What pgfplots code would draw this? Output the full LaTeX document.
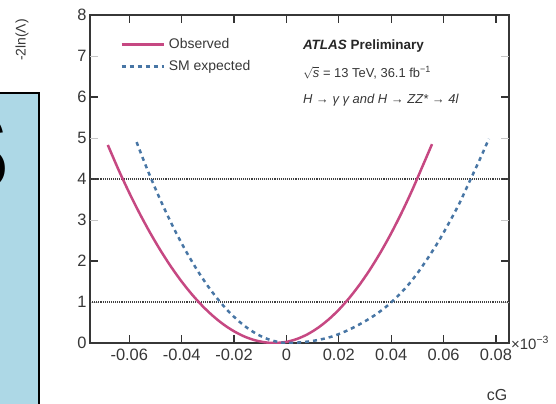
\documentclass[border=0pt]{standalone}
\usepackage{pgfplots}
\pgfplotsset{compat=1.18}
\usepackage{fontspec}
\setmainfont{Liberation Sans}
\definecolor{obs}{RGB}{198,72,130}
\definecolor{smexp}{RGB}{72,118,165}
\definecolor{boxblue}{RGB}{173,216,230}
\definecolor{txt}{RGB}{55,55,55}
\begin{document}
\begin{tikzpicture}[x=1bp,y=1bp]
\path[use as bounding box] (0,0) rectangle (556,403);
\begin{scope}
\clip (0,0) rectangle (556,403);
\fill[boxblue] (-5,-5) rectangle (39,310);
\draw[line width=2bp] (-5,-5) rectangle (39,310);
\node[anchor=east, font=\fontsize{110}{110}\selectfont\bfseries, inner sep=0pt] at (10,250) {S};
\node[rotate=90, font=\fontsize{14}{14}\selectfont, text=txt] at (22,363) {-2ln(Λ)};
\end{scope}
\begin{axis}[
  at={(90bp,60bp)}, anchor=south west, scale only axis,
  width=419bp, height=328bp,
  xmin=-0.075, xmax=0.085, ymin=0, ymax=8,
  scaled x ticks=false,
  xtick={-0.06,-0.04,-0.02,0,0.02,0.04,0.06,0.08},
  xticklabels={-0.06,-0.04,-0.02,0,0.02,0.04,0.06,0.08},
  ytick={0,2,4,6,8},
  extra y ticks={1,3,5,7},
  extra y tick style={tick style={gray!45, line width=1bp}},
  tick align=inside, major tick length=8bp,
  axis line style={line width=1.5bp, txt},
  every tick/.style={line width=1.2bp, black!80},
  ticklabel style={font=\fontsize{16.5}{16.5}\selectfont, text=txt},
  xticklabel style={yshift=-2bp},
  /pgf/number format/assume math mode=true,
  legend style={at={(0.065,0.94)}, anchor=north west, draw=none, fill=none,
    font=\fontsize{14}{15}\selectfont, text=txt, row sep=6bp, nodes={inner xsep=4bp}},
  legend cell align=left,
  legend image code/.code={\draw[#1] (0bp,0bp) -- (42bp,0bp);},
]
\addplot[forget plot, densely dotted, black!75, line width=1.1bp] coordinates {(-0.075,1) (0.085,1)};
\addplot[forget plot, densely dotted, black!75, line width=1.1bp] coordinates {(-0.075,4) (0.085,4)};
\addplot[obs, line width=2.5bp, smooth] coordinates {
(-0.0682,4.83) (-0.064,4.210) (-0.060,3.663) (-0.056,3.154) (-0.052,2.683)
(-0.048,2.250) (-0.044,1.855) (-0.040,1.498) (-0.036,1.180) (-0.032,0.899)
(-0.028,0.657) (-0.024,0.452) (-0.020,0.286) (-0.016,0.157) (-0.012,0.067)
(-0.008,0.015) (-0.0045,0) (0.000,0.027) (0.004,0.098) (0.008,0.211)
(0.012,0.368) (0.016,0.568) (0.020,0.811) (0.024,1.098) (0.028,1.428)
(0.032,1.801) (0.036,2.217) (0.040,2.677) (0.044,3.179) (0.048,3.725)
(0.052,4.315) (0.0556,4.85)};
\addlegendentry{Observed}
\addplot[smexp, line width=2.5bp, dash pattern=on 4bp off 4bp, smooth] coordinates {
(-0.0572,4.90) (-0.054,4.373) (-0.050,3.760) (-0.046,3.194) (-0.042,2.673)
(-0.038,2.199) (-0.034,1.771) (-0.030,1.389) (-0.026,1.054) (-0.022,0.765)
(-0.018,0.522) (-0.014,0.325) (-0.010,0.175) (-0.006,0.071) (-0.002,0.013)
(0.001,0) (0.006,0.02) (0.010,0.05) (0.014,0.10) (0.018,0.17) (0.022,0.27)
(0.026,0.39) (0.030,0.53) (0.034,0.69) (0.038,0.88) (0.042,1.11) (0.046,1.38)
(0.050,1.70) (0.054,2.07) (0.058,2.47) (0.062,2.92) (0.066,3.40) (0.070,3.95)
(0.074,4.50) (0.0773,4.98)};
\addlegendentry{SM expected}
\node[anchor=west, font=\fontsize{13.5}{14}\selectfont\bfseries, text=black!85] at (rel axis cs:0.5,0.9055) {\textit{ATLAS} Preliminary};
\node[anchor=west, font=\fontsize{13}{14}\selectfont, text=txt] at (rel axis cs:0.5,0.823) {$\sqrt{\mbox{\textit{s}}}$ = 13 TeV, 36.1 fb\textsuperscript{−1}};
\node[anchor=west, font=\fontsize{13}{14}\selectfont\itshape, text=txt] at (rel axis cs:0.5,0.741) {H → γ γ and H → ZZ* → 4l};
\end{axis}
\node[anchor=west, font=\fontsize{15}{15}\selectfont, text=txt, inner sep=1pt] at (510,60) {×10\textsuperscript{−3}};
\node[font=\fontsize{16}{16}\selectfont, text=txt] at (497,8) {cG};
\end{tikzpicture}
\end{document}
